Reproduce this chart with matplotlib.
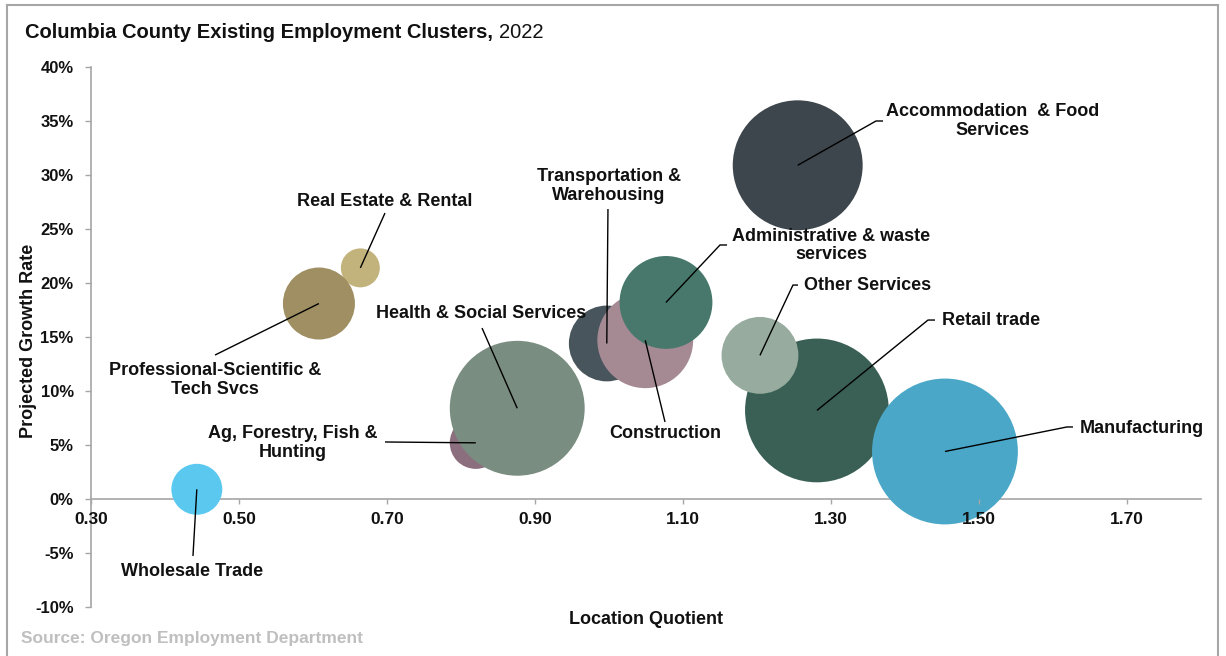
import matplotlib
matplotlib.use("Agg")
import matplotlib.pyplot as plt
from matplotlib.lines import Line2D
import numpy as np

plt.rcParams['font.family'] = ['Liberation Sans', 'DejaVu Sans']

# ---- data -------------------------------------------------------------
industries = [
    "Wholesale Trade",
    "Real Estate & Rental",
    "Professional-Scientific &\nTech Svcs",
    "Ag, Forestry, Fish &\nHunting",
    "Health & Social Services",
    "Transportation &\nWarehousing",
    "Construction",
    "Administrative & waste\nservices",
    "Accommodation  & Food\nServices",
    "Retail trade",
    "Other Services",
    "Manufacturing",
]
location_quotient = [0.443, 0.664, 0.608, 0.820, 0.876, 0.997,
                     1.049, 1.077, 1.255, 1.281, 1.204, 1.454]
growth_rate = [0.9, 21.4, 18.1, 5.2, 8.4, 14.4,
               14.7, 18.2, 30.9, 8.2, 13.3, 4.4]          # percent
employment = [65, 38, 130, 68, 456, 144,
              230, 216, 423, 518, 148, 533]               # bubble size
colors = ["#5BC8F0", "#C2B27B", "#9F8F63", "#8C6F7E", "#7A8D81", "#48555C",
          "#A58A94", "#47786B", "#3D464C", "#3A6055", "#97AC9F", "#4AA7C8"]

x_ticks = [0.30, 0.50, 0.70, 0.90, 1.10, 1.30, 1.50, 1.70]
y_ticks = [-10, -5, 0, 5, 10, 15, 20, 25, 30, 35, 40]

# ---- label layout: text centre, leader start, optional elbow corner ----
label_xy = [(0.4365, -6.67), (0.6973, 27.59), (0.4676, 11.06), (0.573, 5.19),
            (0.827, 17.13), (1.000, 28.98), (1.0757, 6.02), (1.300, 23.47),
            (1.5189, 35.0), (1.5162, 16.57), (1.350, 19.81), (1.7203, 6.57)]
leader_start = [(0.4378, -5.28), (0.6973, 26.48), (0.4676, 13.33), (0.6973, 5.28),
                (0.8284, 15.83), (0.9986, 26.85), (1.0757, 7.13), (1.1595, 23.52),
                (1.3703, 35.0), (1.4405, 16.57), (1.2554, 19.81), (1.627, 6.67)]
leader_corner = [None, None, None, None, None, None, None, 1.150,
                 1.3608, 1.4311, 1.2486, 1.6189]

W, H = 1226, 656
fig = plt.figure(figsize=(W / 100, H / 100), dpi=100)
ax = fig.add_axes([91 / W, 49 / H, 1110 / W, 540 / H])
ax.set_axisbelow(False)

# bubble area proportional to employment; largest bubble ~105 pt across
sizes = np.array(employment, dtype=float)
s = sizes / sizes.max() * 105.0 ** 2
ax.scatter(location_quotient, growth_rate, s=s, c=colors, linewidths=0,
           zorder=2, clip_on=False)

# leader lines and labels
for i, name in enumerate(industries):
    bx, by = location_quotient[i], growth_rate[i]
    sx, sy = leader_start[i]
    if leader_corner[i] is None:
        xs, ys = [sx, bx], [sy, by]
    else:
        xs, ys = [sx, leader_corner[i], bx], [sy, sy, by]
    ax.plot(xs, ys, color="black", lw=1.0, zorder=4, clip_on=False,
            solid_capstyle="butt")
    tx, ty = label_xy[i]
    ax.text(tx, ty, name, ha="center", va="center", multialignment="center",
            fontsize=13, fontweight="bold", color="#111111", zorder=5,
            linespacing=1.15, clip_on=False)

# axes styling
ax.set_xlim(0.3, 1.8)
ax.set_ylim(-10, 40)
ax.set_xticks(x_ticks)
ax.set_xticklabels([f"{v:.2f}" for v in x_ticks])
ax.set_yticks(y_ticks)
ax.set_yticklabels([f"{v}%" for v in y_ticks])
for side in ("top", "right"):
    ax.spines[side].set_visible(False)
ax.spines["bottom"].set_position(("data", 0))
for side in ("left", "bottom"):
    ax.spines[side].set_color("#A6A6A6")
    ax.spines[side].set_linewidth(1.2)
    ax.spines[side].set_zorder(1.5)
ax.tick_params(axis="y", direction="out", length=4.5, width=1.0,
               color="#A6A6A6", pad=8, labelsize=12)
ax.tick_params(axis="x", direction="out", length=3.5, width=1.0,
               color="#A6A6A6", pad=6, labelsize=12.5)
for lab in ax.get_xticklabels() + ax.get_yticklabels():
    lab.set_fontweight("bold")
    lab.set_color("#111111")
ax.set_facecolor("none")

# axis titles
fig.text(646 / W, 1 - 620 / H, "Location Quotient", ha="center", va="center",
         fontsize=13, fontweight="bold", color="#111111")
fig.text(29 / W, 1 - 341 / H, "Projected Growth Rate", ha="center", va="center",
         rotation=90, fontsize=13, fontweight="bold", color="#111111")

# title: bold lead with regular year
t = fig.text(25 / W, 1 - 38 / H, "Columbia County Existing Employment Clusters,",
             ha="left", va="baseline", fontsize=14.5, fontweight="bold",
             color="#111111")
fig.canvas.draw()
bb = t.get_window_extent()
fig.text((bb.x1 + 5.5) / W, 1 - 38 / H, "2022", ha="left", va="baseline",
         fontsize=14.5, color="#111111")

# source note
fig.text(21 / W, 1 - 639 / H, "Source: Oregon Employment Department",
         ha="left", va="center", fontsize=12.5, fontweight="bold",
         color="#BFBFBF")

# chart frame
frame_kw = dict(color="#A6A6A6", lw=1.5, transform=fig.transFigure)
fig.add_artist(Line2D([7 / W, 7 / W], [0, 1 - 5 / H], **frame_kw))
fig.add_artist(Line2D([7 / W, 1218 / W], [1 - 5 / H, 1 - 5 / H], **frame_kw))
fig.add_artist(Line2D([1218 / W, 1218 / W], [0, 1 - 5 / H], **frame_kw))

fig.savefig("out.png", dpi=100, facecolor="white")
